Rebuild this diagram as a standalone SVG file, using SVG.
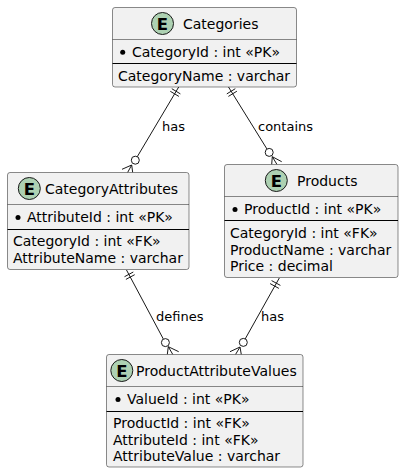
<svg xmlns="http://www.w3.org/2000/svg" width="404" height="473" viewBox="0 0 404 473">
<style>
.box{fill:#F1F1F1;stroke:#181818;stroke-width:.5}
.hd{stroke:#181818;stroke-width:.5;fill:none}
.sep{stroke:#000;stroke-width:1;fill:none}
.spot{fill:#ADD1B2;stroke:#181818;stroke-width:1}
text{font-family:"DejaVu Sans",sans-serif;font-size:14px;fill:#000}
text.e{font-weight:bold;font-size:16.5px;text-anchor:middle}
text.lbl{font-size:13px}
.dot{fill:#000}
.c{stroke:#181818;stroke-width:1;fill:none}
.o{stroke:#181818;stroke-width:1;fill:#fff}
</style>
<g id="connectors">
<path class="c" d="M178.700 87L135.300 160M171.800 88.700L180.400 93.900M170.300 91.300L178.900 96.400M131.700 165L122 169.300M131.700 165L132.700 172.500M131.700 165L127.600 172.500"/>
<circle class="o" cx="135.300" cy="160.200" r="4"/>
<path class="c" d="M228.500 87L269 152.300M235.300 88.700L226.800 93.900M236.900 91.200L228.400 96.400M272.300 156.700L281.700 161.700M272.300 156.700L271.700 164.500M272.300 156.700L277 164.500"/>
<circle class="o" cx="269.200" cy="152.400" r="4"/>
<path class="c" d="M126.500 270L165.300 342.700M124.500 276.700L133.300 272M125.900 279.400L134.700 274.700M168.300 346.700L178.700 351.700M168.300 346.700L167.300 354.500M168.300 346.700L172.800 354.500"/>
<circle class="o" cx="165.400" cy="342.600" r="4"/>
<path class="c" d="M279.300 278L243.300 342.300M271.600 280.600L280.400 285.400M270.100 283.600L278.900 288.400M240 347L230 351.700M240 347L241.300 354.500M240 347L235.500 354.500"/>
<circle class="o" cx="243.300" cy="342.400" r="4"/>
</g>
<g id="categories">
<rect class="box" x="112.500" y="7.500" width="184" height="79.500" rx="2.500"/>
<circle class="spot" cx="162.500" cy="23.500" r="11"/>
<text class="e" x="162.500" y="29.500">E</text>
<text x="183" y="28.500">Categories</text>
<path class="hd" d="M112.500 39.500H296.500"/>
<circle class="dot" cx="122.700" cy="52.300" r="2.500"/>
<text x="132" y="56.500">CategoryId : int «PK»</text>
<path class="sep" d="M112.500 63.500H296.500"/>
<text x="118" y="80.500">CategoryName : varchar</text>
</g>
<g id="categoryattributes">
<rect class="box" x="7.500" y="172.500" width="181.500" height="97" rx="2.500"/>
<circle class="spot" cx="29.300" cy="188.500" r="11"/>
<text class="e" x="29.300" y="194.500">E</text>
<text x="45" y="193.500">CategoryAttributes</text>
<path class="hd" d="M7.500 204.500H189"/>
<circle class="dot" cx="18" cy="217.500" r="2.500"/>
<text x="27" y="222">AttributeId : int «PK»</text>
<path class="sep" d="M7.500 229.500H189"/>
<text x="13" y="246">CategoryId : int «FK»</text>
<text x="13" y="263">AttributeName : varchar</text>
</g>
<g id="products">
<rect class="box" x="224.500" y="164.500" width="173.500" height="113" rx="2.500"/>
<circle class="spot" cx="276.300" cy="180.500" r="11"/>
<text class="e" x="276.300" y="186.500">E</text>
<text x="297" y="185.500">Products</text>
<path class="hd" d="M224.500 196.500H398"/>
<circle class="dot" cx="235" cy="209.500" r="2.500"/>
<text x="244" y="214">ProductId : int «PK»</text>
<path class="sep" d="M224.500 220.500H398"/>
<text x="230" y="238">CategoryId : int «FK»</text>
<text x="230" y="254.500">ProductName : varchar</text>
<text x="230" y="270.500">Price : decimal</text>
</g>
<g id="productattributevalues">
<rect class="box" x="106.500" y="354.500" width="196.500" height="112.500" rx="2.500"/>
<circle class="spot" cx="121.800" cy="370.500" r="11"/>
<text class="e" x="121.800" y="376.500">E</text>
<text x="136" y="375.500">ProductAttributeValues</text>
<path class="hd" d="M106.500 386.500H303"/>
<circle class="dot" cx="118" cy="399.500" r="2.500"/>
<text x="127" y="404">ValueId : int «PK»</text>
<path class="sep" d="M106.500 411.500H303"/>
<text x="113" y="428">ProductId : int «FK»</text>
<text x="113" y="444.500">AttributeId : int «FK»</text>
<text x="113" y="461">AttributeValue : varchar</text>
</g>
<g id="labels">
<text class="lbl" x="162" y="131">has</text>
<text class="lbl" x="258" y="131">contains</text>
<text class="lbl" x="156" y="321">defines</text>
<text class="lbl" x="261" y="321">has</text>
</g>
</svg>
